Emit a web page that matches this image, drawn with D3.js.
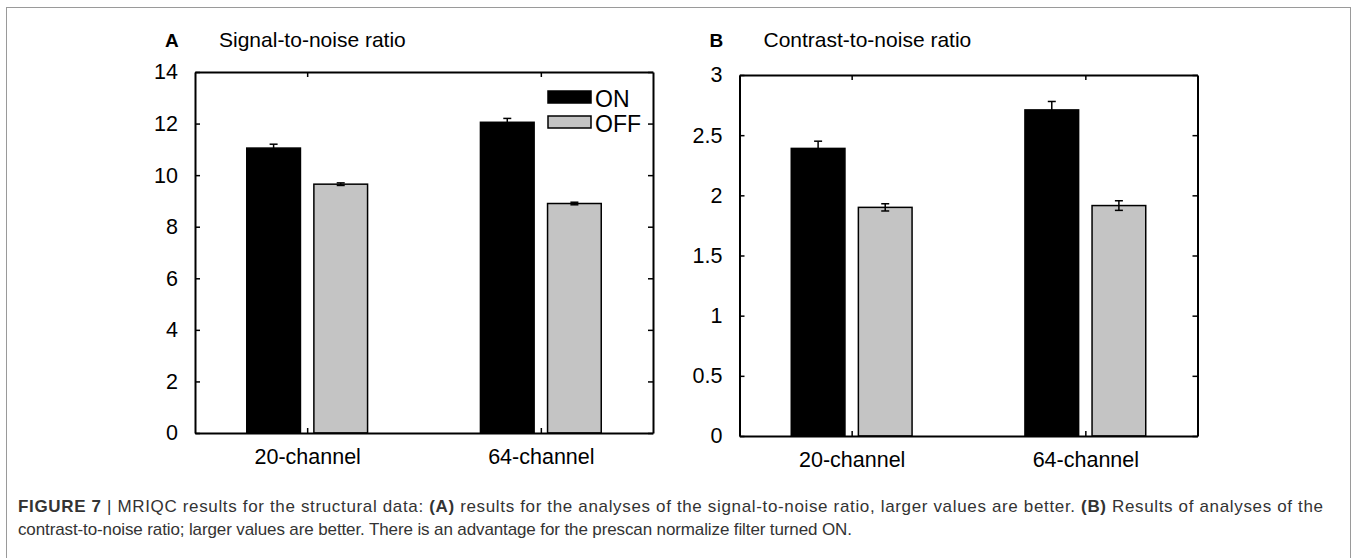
<!DOCTYPE html>
<html>
<head>
<meta charset="utf-8">
<script src="https://cdn.jsdelivr.net/npm/d3@7"></script>
<style>
  html, body { margin: 0; padding: 0; background: #fff; overflow: hidden; }
  svg { display: block; }
  svg text { font-family: "Liberation Sans", Arial, sans-serif; fill: #000; }
</style>
</head>
<body>
<div id="figure"></div>
<script>
// values (mean and error per channel count)
const categories = ["20-channel", "64-channel"];
const filterKeys = ["ON", "OFF"];

const snrOn = [11.05, 12.05];
const snrOnErr = [0.15, 0.15];
const snrOff = [9.65, 8.9];
const snrOffErr = [0.05, 0.05];

const cnrOn = [2.39, 2.71];
const cnrOnErr = [0.06, 0.07];
const cnrOff = [1.9, 1.915];
const cnrOffErr = [0.03, 0.04];

const snrTicks = [0, 2, 4, 6, 8, 10, 12, 14];
const cnrTicks = [0, 0.5, 1, 1.5, 2, 2.5, 3];

const width = 1357;
const height = 558;
const innerWidth = 458;
const innerHeight = 361;
const colors = { ON: "#000000", OFF: "#c4c4c4" };

const svg = d3.select("#figure")
  .append("svg")
    .attr("width", width)
    .attr("height", height)
    .attr("viewBox", [0, 0, width, height]);

// outer frame of the figure
svg.append("rect")
  .attr("x", 6.5)
  .attr("y", 7.5)
  .attr("width", 1344)
  .attr("height", 560)
  .attr("fill", "none")
  .attr("stroke", "#9a9a9a")
  .attr("stroke-width", 1);

const buildRows = (on, onErr, off, offErr) =>
  categories.map((c, i) => ({
    category: c,
    index: i + 1,
    values: [
      { key: "ON", value: on[i], err: onErr[i] },
      { key: "OFF", value: off[i], err: offErr[i] }
    ]
  }));

const drawPanel = (opts) => {
  const { left, top, letter, title, rows, yMax, ticks, legend } = opts;

  const g = svg.append("g")
    .attr("transform", `translate(${left}, ${top})`);

  /*******************************/
  /*    scales                   */
  /*******************************/
  const xScale = d3.scaleLinear()
    .domain([0.52, 2.48])
    .range([0, innerWidth]);

  const subScale = d3.scaleBand()
    .domain(filterKeys)
    .range([-0.2585, 0.2585])
    .paddingInner(0.2);

  const yScale = d3.scaleLinear()
    .domain([0, yMax])
    .range([innerHeight, 0]);

  const unit = xScale(1) - xScale(0);

  /*******************************/
  /*    bars                     */
  /*******************************/
  const groups = g.selectAll(".group")
    .data(rows)
    .join("g")
      .attr("class", "group")
      .attr("transform", d => `translate(${xScale(d.index)}, 0)`);

  groups.selectAll("rect")
    .data(d => d.values)
    .join("rect")
      .attr("x", d => subScale(d.key) * unit)
      .attr("y", d => yScale(d.value))
      .attr("width", subScale.bandwidth() * unit)
      .attr("height", d => innerHeight - yScale(d.value))
      .attr("fill", d => colors[d.key])
      .attr("stroke", "#000")
      .attr("stroke-width", 1.5);

  // error bars
  const errs = groups.selectAll(".err")
    .data(d => d.values)
    .join("g")
      .attr("class", "err")
      .attr("transform", d => `translate(${(subScale(d.key) + subScale.bandwidth() / 2) * unit}, 0)`)
      .attr("stroke", "#000")
      .attr("stroke-width", 1.5);

  errs.append("line")
    .attr("y1", d => yScale(d.value - d.err))
    .attr("y2", d => yScale(d.value + d.err));
  errs.append("line")
    .attr("x1", -4).attr("x2", 4)
    .attr("y1", d => yScale(d.value + d.err))
    .attr("y2", d => yScale(d.value + d.err));
  errs.append("line")
    .attr("x1", -4).attr("x2", 4)
    .attr("y1", d => yScale(d.value - d.err))
    .attr("y2", d => yScale(d.value - d.err));

  /*******************************/
  /*    axes (box, inward ticks) */
  /*******************************/
  const catTicks = rows.map(d => d.index);

  const leftAxis = d3.axisLeft(yScale).tickValues(ticks).tickSizeInner(-5).tickSizeOuter(0)
    .tickPadding(17).tickFormat(d3.format("~g"));
  const rightAxis = d3.axisRight(yScale).tickValues(ticks).tickSizeInner(-5).tickSizeOuter(0);
  const bottomAxis = d3.axisBottom(xScale).tickValues(catTicks).tickSizeInner(-5).tickSizeOuter(0)
    .tickPadding(16).tickFormat(i => categories[i - 1]);
  const topAxis = d3.axisTop(xScale).tickValues(catTicks).tickSizeInner(-5).tickSizeOuter(0);

  const styleAxis = (sel) => {
    sel.select(".domain").attr("stroke", "#000").attr("stroke-width", 2);
    sel.selectAll(".tick line").attr("stroke", "#000").attr("stroke-width", 1.5);
    sel.selectAll(".tick text")
      .attr("font-size", 21.5)
      .attr("fill", "#000")
      .style("font-family", "'Liberation Sans', Arial, sans-serif");
  };
  // mirrored axes only carry tick marks
  const dropLabels = (sel) => sel.selectAll(".tick text").remove();

  g.append("g").call(leftAxis).call(styleAxis);
  g.append("g").attr("transform", `translate(${innerWidth}, 0)`).call(rightAxis).call(styleAxis).call(dropLabels);
  g.append("g").attr("transform", `translate(0, ${innerHeight})`).call(bottomAxis).call(styleAxis);
  g.append("g").call(topAxis).call(styleAxis).call(dropLabels);

  /*******************************/
  /*    panel letter and title   */
  /*******************************/
  svg.append("text")
    .attr("x", left - 30)
    .attr("y", 47)
    .attr("font-size", 19)
    .attr("font-weight", "bold")
    .text(letter);

  svg.append("text")
    .attr("x", left + 24)
    .attr("y", 47)
    .attr("font-size", 21)
    .text(title);

  /*******************************/
  /*    legend                   */
  /*******************************/
  if (legend) {
    const lg = g.append("g")
      .attr("transform", `translate(${innerWidth - 105}, 19)`);
    const items = lg.selectAll("g")
      .data(filterKeys)
      .join("g")
        .attr("transform", (d, i) => `translate(0, ${i * 25})`);
    items.append("rect")
      .attr("width", 43)
      .attr("height", 12)
      .attr("fill", d => colors[d])
      .attr("stroke", "#000")
      .attr("stroke-width", 1.5);
    items.append("text")
      .attr("x", 47)
      .attr("y", 16)
      .attr("font-size", 23)
      .text(d => d);
  }
};

drawPanel({
  left: 195, top: 72, letter: "A", title: "Signal-to-noise ratio",
  rows: buildRows(snrOn, snrOnErr, snrOff, snrOffErr),
  yMax: 14, ticks: snrTicks, legend: true
});

drawPanel({
  left: 739.5, top: 75, letter: "B", title: "Contrast-to-noise ratio",
  rows: buildRows(cnrOn, cnrOnErr, cnrOff, cnrOffErr),
  yMax: 3, ticks: cnrTicks, legend: false
});

/*******************************/
/*    caption                  */
/*******************************/
const captionLines = [
  [
    { t: "FIGURE 7", b: true },
    { t: " | MRIQC results for the structural data: ", b: false },
    { t: "(A)", b: true },
    { t: " results for the analyses of the signal-to-noise ratio, larger values are better. ", b: false },
    { t: "(B)", b: true },
    { t: " Results of analyses of the", b: false }
  ],
  [
    { t: "contrast-to-noise ratio; larger values are better. There is an advantage for the prescan normalize filter turned ON.", b: false }
  ]
];
const captionWidths = [1305, 834];

svg.selectAll(".caption")
  .data(captionLines)
  .join("text")
    .attr("class", "caption")
    .attr("x", 18)
    .attr("y", (d, i) => 512 + i * 23)
    .attr("font-size", 17)
    .attr("textLength", (d, i) => captionWidths[i])
    .attr("lengthAdjust", "spacing")
    .style("fill", "#333")
  .selectAll("tspan")
  .data(d => d)
  .join("tspan")
    .attr("font-weight", d => d.b ? "bold" : "normal")
    .style("fill", "#333")
    .text(d => d.t);
</script>
</body>
</html>
